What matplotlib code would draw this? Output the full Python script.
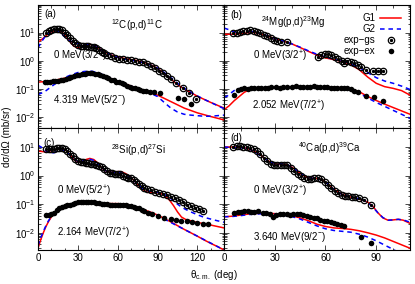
import numpy as np
import matplotlib
matplotlib.use("Agg")
import matplotlib.pyplot as plt
from matplotlib.ticker import MultipleLocator, LogLocator, NullFormatter

plt.rcParams['font.family'] = ['Liberation Sans', 'DejaVu Sans']
plt.rcParams['mathtext.fontset'] = 'custom'
plt.rcParams['mathtext.rm'] = 'Liberation Sans'
plt.rcParams['mathtext.it'] = 'Liberation Sans:italic'
plt.rcParams['mathtext.default'] = 'regular'
plt.rcParams['font.size'] = 7

# all cross sections are given as log10(dsigma/dOmega [mb/sr])

# ---- (a) 12C(p,d)11C
a_gs_th = [6, 8, 10, 12, 14, 16, 18, 20, 22, 24, 26, 28, 30, 32, 34, 36, 38, 40, 42, 44, 46, 48, 50,
           52, 55, 58, 61, 64, 67, 70, 73, 76, 79, 82, 85, 88, 91, 94, 97, 100, 104, 109, 114, 119]
a_gs_lg = [1.0, 1.05, 1.1, 1.12, 1.14, 1.13, 1.08, 1.0, 0.9, 0.8, 0.7, 0.62, 0.56, 0.53, 0.52, 0.52,
           0.51, 0.5, 0.48, 0.44, 0.38, 0.32, 0.27, 0.22, 0.16, 0.1, 0.07, 0.05, 0.03, 0.01, 0.0, -0.03,
           -0.06, -0.12, -0.19, -0.27, -0.35, -0.45, -0.55, -0.66, -0.79, -0.96, -1.14, -1.36]
a_ex_th = [5, 7, 9, 11, 13, 15, 17, 19, 21, 23, 25, 27, 29, 31, 33, 35, 37, 39, 41, 43, 45, 47, 49,
           51, 53, 55, 57, 59, 61, 63, 65, 67, 69, 71, 73, 75, 77, 79, 81, 84, 87, 92, 105, 110, 115]
a_ex_lg = [-0.75, -0.74, -0.74, -0.73, -0.72, -0.71, -0.7, -0.68, -0.65, -0.6, -0.56, -0.53, -0.51,
           -0.49, -0.47, -0.46, -0.45, -0.45, -0.45, -0.46, -0.48, -0.51, -0.55, -0.59, -0.63, -0.67,
           -0.7, -0.74, -0.77, -0.8, -0.84, -0.88, -0.92, -0.96, -0.98, -1.0, -1.03, -1.06, -1.08,
           -1.1, -1.12, -1.13, -1.32, -1.36, -1.55]
a_g1gs_th = [0, 4, 8, 12, 15, 18, 21, 24, 27, 30, 33, 36, 39, 42, 45, 48, 52, 56, 60, 65, 70, 75, 80,
             85, 90, 95, 100, 105, 110, 115, 120, 125, 130, 135, 140]
a_g1gs_lg = [0.65, 0.8, 0.97, 1.06, 1.07, 1.02, 0.88, 0.68, 0.52, 0.46, 0.5, 0.56, 0.58, 0.55, 0.47,
             0.38, 0.27, 0.19, 0.14, 0.08, 0.04, 0.0, -0.06, -0.15, -0.27, -0.45, -0.65, -0.85, -1.0,
             -1.13, -1.26, -1.37, -1.48, -1.58, -1.68]
a_g2gs_th = [0, 3, 6, 9, 12, 15, 18, 21, 24, 27, 30, 33, 36, 39, 42, 45, 48, 52, 56, 60, 65, 70, 75,
             80, 85, 90, 95, 100, 105, 110, 115, 120, 125, 130, 135, 140]
a_g2gs_lg = [0.46, 0.7, 0.9, 1.02, 1.08, 1.05, 0.95, 0.8, 0.7, 0.66, 0.62, 0.58, 0.58, 0.57, 0.53,
             0.46, 0.38, 0.27, 0.18, 0.12, 0.06, 0.02, -0.02, -0.08, -0.16, -0.26, -0.42, -0.6, -0.8,
             -0.97, -1.12, -1.25, -1.37, -1.48, -1.59, -1.7]
a_g1ex_th = [0, 10, 20, 30, 40, 45, 50, 60, 70, 80, 90, 100, 110, 120, 130, 140]
a_g1ex_lg = [-0.76, -0.72, -0.62, -0.52, -0.47, -0.48, -0.55, -0.72, -0.9, -1.06, -1.22, -1.45, -1.68,
             -1.85, -1.98, -2.1]
a_g2ex_th = [0, 5, 10, 15, 20, 25, 30, 35, 40, 45, 50, 55, 60, 70, 80, 90, 95, 100, 105, 110, 115,
             120, 125, 130, 135, 140]
a_g2ex_lg = [-1.2, -1.1, -0.92, -0.75, -0.6, -0.5, -0.42, -0.38, -0.37, -0.42, -0.52, -0.62, -0.72,
             -0.9, -1.06, -1.27, -1.48, -1.68, -1.82, -1.9, -1.93, -1.95, -1.97, -1.97, -1.95, -1.93]

# ---- (b) 24Mg(p,d)23Mg
b_gs_th = [5.5, 7.5, 9.5, 11.5, 13.5, 15.5, 17.5, 19.5, 21.5, 23.5, 25.5, 27.5, 29.5, 31.5, 33.5, 37,
           55.5, 57.5, 59.5, 61.5, 63.5, 65.5, 67.5, 69.5, 71, 73, 75, 77, 79, 81, 84, 88, 91, 94]
b_gs_lg = [0.98, 1.0, 1.03, 1.06, 1.07, 1.08, 1.07, 1.03, 0.98, 0.92, 0.86, 0.8, 0.74, 0.7, 0.67, 0.66,
           0.14, 0.22, 0.25, 0.24, 0.2, 0.13, 0.06, 0.0, -0.07, -0.02, -0.05, -0.08, -0.15, -0.22,
           -0.34, -0.37, -0.38, -0.37]
b_ex_th = [6, 8, 10, 12, 14, 16, 18, 20, 22, 24, 26, 28, 30.5, 33, 35, 37, 40, 42.5, 45, 47, 49, 51,
           53, 55, 57, 59, 61, 63, 65, 67, 69, 71, 73, 75, 77, 79, 84, 89, 94]
b_ex_lg = [-1.22, -1.03, -1.0, -0.98, -1.0, -0.97, -0.97, -0.96, -0.97, -0.96, -0.97, -0.95, -0.93,
           -0.96, -0.95, -0.95, -0.92, -0.89, -0.92, -0.93, -0.92, -0.94, -0.91, -0.95, -0.93, -0.95,
           -0.94, -0.97, -0.96, -0.97, -0.97, -0.97, -0.98, -1.02, -1.06, -1.1, -1.26, -1.3, -1.43]
b_g1gs_th = [0, 5, 10, 15, 18, 21, 25, 30, 35, 40, 45, 50, 55, 60, 65, 70, 75, 80, 85, 90, 95, 100,
             105, 110]
b_g1gs_lg = [0.94, 0.94, 0.96, 1.0, 1.0, 0.96, 0.89, 0.79, 0.7, 0.6, 0.47, 0.33, 0.2, 0.1, 0.04, -0.03,
             -0.14, -0.32, -0.58, -0.8, -0.92, -0.98, -1.06, -1.22]
b_g2gs_th = [0, 3, 6, 10, 15, 18, 21, 25, 30, 35, 40, 45, 50, 55, 60, 65, 70, 75, 80, 85, 90, 95, 100,
             105, 110]
b_g2gs_lg = [1.16, 1.1, 1.02, 1.02, 1.04, 1.03, 0.98, 0.9, 0.8, 0.7, 0.6, 0.48, 0.35, 0.23, 0.13, 0.06,
             -0.01, -0.1, -0.24, -0.42, -0.6, -0.72, -0.8, -0.9, -1.02]
b_g1ex_th = [0, 3, 6, 9, 12, 15, 18, 22, 30, 40, 50, 60, 70, 75, 80, 85, 90, 95, 100, 105, 110]
b_g1ex_lg = [-1.74, -1.6, -1.42, -1.27, -1.12, -1.03, -0.98, -0.96, -0.95, -0.94, -0.93, -0.93, -0.96,
             -1.0, -1.1, -1.27, -1.41, -1.54, -1.66, -1.78, -1.9]
b_g2ex_th = [0, 2, 4, 6, 8, 12, 20, 30, 40, 50, 60, 70, 75, 80, 85, 90, 95, 100, 105, 110]
b_g2ex_lg = [-1.3, -1.25, -1.15, -1.06, -1.0, -0.97, -0.96, -0.95, -0.94, -0.93, -0.94, -0.98, -1.04,
             -1.15, -1.32, -1.48, -1.62, -1.76, -1.9, -2.04]

# ---- (c) 28Si(p,d)27Si
c_gs_th = [6, 8, 10, 12, 14, 16, 18, 20, 22, 24, 26, 28, 30, 32, 34, 36, 38, 40, 42, 44, 46, 48, 50,
           52, 54, 56, 58, 60, 62, 64, 66, 68, 70, 72, 74, 76, 78, 80, 82, 85, 88, 91, 94, 97, 100,
           103, 106, 109, 112, 115, 118, 121, 124]
c_gs_lg = [0.94, 0.92, 0.92, 0.94, 0.97, 0.98, 0.96, 0.92, 0.85, 0.76, 0.67, 0.58, 0.52, 0.48, 0.46,
           0.45, 0.44, 0.42, 0.4, 0.38, 0.35, 0.3, 0.22, 0.15, 0.1, 0.08, 0.07, 0.06, 0.04, 0.0, -0.05,
           -0.08, -0.1, -0.14, -0.22, -0.3, -0.38, -0.44, -0.48, -0.52, -0.56, -0.6, -0.64, -0.68,
           -0.74, -0.8, -0.86, -0.93, -1.02, -1.08, -1.13, -1.18, -1.24]
c_ex_th = [6, 8, 10, 12, 14, 16, 18, 20, 22, 24, 26, 28, 30, 32, 34, 36, 38, 40, 42, 44, 46, 48, 50,
           52, 54, 56, 58, 60, 62, 64, 66, 68, 70, 72, 74, 76, 78, 80, 83, 86, 90, 95, 100, 104, 108,
           112, 116, 120, 124, 128]
c_ex_lg = [-1.38, -1.37, -1.35, -1.3, -1.2, -1.14, -1.1, -1.07, -1.04, -1.02, -0.99, -0.96, -0.94,
           -0.92, -0.91, -0.91, -0.92, -0.93, -0.94, -0.96, -0.97, -0.98, -0.99, -1.0, -1.02, -1.03,
           -1.02, -1.02, -1.02, -1.03, -1.04, -1.05, -1.07, -1.09, -1.12, -1.15, -1.2, -1.25, -1.3,
           -1.35, -1.41, -1.48, -1.53, -1.56, -1.58, -1.6, -1.62, -1.66, -1.68, -1.7]
c_g1gs_th = [0, 3, 6, 9, 12, 15, 18, 21, 24, 27, 30, 33, 36, 39, 42, 45, 48, 51, 54, 57, 60, 63, 66,
             69, 72, 75, 78, 81, 84, 87, 90, 93, 96, 99, 102, 105, 108, 111, 115, 120, 125, 130, 135,
             140]
c_g1gs_lg = [0.86, 0.84, 0.83, 0.86, 0.9, 0.93, 0.94, 0.88, 0.74, 0.56, 0.46, 0.48, 0.56, 0.6, 0.56,
             0.44, 0.26, 0.16, 0.12, 0.12, 0.14, 0.13, 0.07, -0.03, -0.16, -0.32, -0.46, -0.55, -0.6,
             -0.6, -0.6, -0.64, -0.72, -0.86, -1.05, -1.27, -1.45, -1.53, -1.58, -1.64, -1.68, -1.73,
             -1.78, -1.83]
c_g2gs_th = c_g1gs_th
c_g2gs_lg = [1.06, 0.98, 0.86, 0.78, 0.8, 0.87, 0.9, 0.85, 0.72, 0.58, 0.5, 0.5, 0.55, 0.57, 0.53,
             0.42, 0.27, 0.17, 0.12, 0.1, 0.1, 0.09, 0.04, -0.05, -0.17, -0.3, -0.42, -0.5, -0.54,
             -0.56, -0.58, -0.62, -0.68, -0.76, -0.88, -1.0, -1.1, -1.18, -1.27, -1.37, -1.46, -1.52,
             -1.58, -1.63]
c_g1ex_th = [0, 2, 4, 6, 8, 10, 13, 16, 20, 25, 30, 35, 40, 45, 50, 55, 60, 65, 70, 75, 80, 85, 90,
             95, 100, 105, 110, 115, 120, 125, 130, 135, 140]
c_g1ex_lg = [-2.54, -2.25, -2.0, -1.78, -1.6, -1.45, -1.3, -1.18, -1.07, -0.99, -0.94, -0.92, -0.93,
             -0.96, -0.98, -0.98, -0.98, -1.0, -1.05, -1.12, -1.2, -1.28, -1.38, -1.5, -1.62, -1.75,
             -1.88, -2.0, -2.12, -2.25, -2.37, -2.48, -2.6]
c_g2ex_th = c_g1ex_th
c_g2ex_lg = [-2.45, -2.18, -1.95, -1.75, -1.57, -1.44, -1.3, -1.19, -1.08, -1.0, -0.96, -0.94, -0.95,
             -0.98, -1.01, -1.01, -1.0, -1.02, -1.07, -1.14, -1.22, -1.3, -1.4, -1.52, -1.64, -1.76,
             -1.88, -2.0, -2.12, -2.24, -2.36, -2.48, -2.6]

# ---- (d) 40Ca(p,d)39Ca
d_gs_th = [5.5, 7.5, 9.5, 11.5, 13.5, 15.5, 17.5, 19.5, 21.5, 23.5, 25.5, 27.5, 29.5, 31.5, 33.5,
           35.5, 37.5, 39.5, 41.5, 43.5, 45.5, 47.5, 49.5, 51.5, 53.5, 55.5, 57.5, 59.5, 61.5, 63.5,
           65.5, 67.5, 69.5, 71.5, 73.5, 75.5, 77.5, 80, 83, 87]
d_gs_lg = [1.0, 1.02, 1.02, 1.01, 1.0, 0.97, 0.93, 0.85, 0.75, 0.63, 0.5, 0.42, 0.37, 0.36, 0.37, 0.38,
           0.36, 0.28, 0.17, 0.07, -0.02, -0.08, -0.12, -0.11, -0.1, -0.1, -0.13, -0.22, -0.33, -0.45,
           -0.55, -0.62, -0.67, -0.7, -0.72, -0.74, -0.76, -0.8, -0.86, -1.03]
d_ex_th = [6, 8, 10, 12, 14, 16, 18, 20, 23, 25, 27, 29, 31, 33, 35, 37, 39, 41, 43, 45, 47, 49, 51,
           53, 55, 57, 59, 61, 63, 65, 67, 69, 71, 81, 87]
d_ex_lg = [-1.3, -1.28, -1.26, -1.25, -1.25, -1.27, -1.26, -1.25, -1.3, -1.32, -1.33, -1.45, -1.38,
           -1.34, -1.33, -1.34, -1.37, -1.36, -1.34, -1.35, -1.37, -1.4, -1.44, -1.47, -1.5, -1.55,
           -1.6, -1.6, -1.63, -1.66, -1.7, -1.74, -1.78, -2.14, -2.34]
d_g1gs_th = [0, 5, 10, 13, 16, 19, 22, 25, 28, 31, 34, 37, 40, 43, 46, 49, 52, 55, 58, 61, 64, 67,
             70, 73, 76, 79, 82, 85, 88, 91, 94, 97, 100, 103, 106, 110]
d_g1gs_lg = [1.0, 1.0, 0.99, 0.96, 0.9, 0.82, 0.7, 0.56, 0.45, 0.4, 0.39, 0.38, 0.3, 0.17, 0.03, -0.06,
             -0.09, -0.1, -0.14, -0.27, -0.43, -0.56, -0.66, -0.72, -0.77, -0.81, -0.86, -0.93, -1.07,
             -1.3, -1.48, -1.56, -1.55, -1.53, -1.56, -1.67]
d_g2gs_th = d_g1gs_th
d_g2gs_lg = [1.0, 0.98, 0.97, 0.95, 0.9, 0.8, 0.67, 0.55, 0.46, 0.42, 0.41, 0.39, 0.31, 0.18, 0.05,
             -0.05, -0.09, -0.11, -0.16, -0.28, -0.44, -0.57, -0.66, -0.72, -0.76, -0.8, -0.85, -0.94,
             -1.1, -1.3, -1.47, -1.56, -1.55, -1.53, -1.55, -1.63]
d_g1ex_th = [0, 5, 10, 15, 20, 25, 30, 35, 40, 45, 50, 55, 60, 65, 70, 75, 80, 85, 90, 95, 100, 105,
             110]
d_g1ex_lg = [-1.44, -1.42, -1.38, -1.34, -1.32, -1.32, -1.33, -1.35, -1.4, -1.48, -1.58, -1.7, -1.78,
             -1.83, -1.85, -1.88, -1.93, -2.0, -2.08, -2.18, -2.3, -2.42, -2.54]
d_g2ex_th = [0, 5, 10, 15, 20, 25, 30, 35, 40, 45, 50, 55, 60, 65, 70, 75, 80, 85, 90, 95, 100, 105]
d_g2ex_lg = [-1.44, -1.43, -1.4, -1.36, -1.34, -1.33, -1.35, -1.38, -1.43, -1.52, -1.64, -1.76, -1.86,
             -1.92, -1.95, -1.98, -2.05, -2.15, -2.28, -2.43, -2.58, -2.75]

labels = ['(a)', '(b)', '(c)', '(d)']
reactions = [r'$^{12}$C(p,d)$^{11}$C', r'$^{24}$Mg(p,d)$^{23}$Mg',
             r'$^{28}$Si(p,d)$^{27}$Si', r'$^{40}$Ca(p,d)$^{39}$Ca']
gs_names = [r'0 MeV(3/2$^{-}$)', r'0 MeV(3/2$^{+}$)', r'0 MeV(5/2$^{+}$)', r'0 MeV(3/2$^{+}$)']
ex_names = [r'4.319 MeV(5/2$^{-}$)', r'2.052 MeV(7/2$^{+}$)',
            r'2.164 MeV(7/2$^{+}$)', r'3.640 MeV(9/2$^{-}$)']

W, H = 415, 284
fig = plt.figure(figsize=(W / 100, H / 100), dpi=100)


def box(x0, y0, x1, y1):
    return [x0 / W, 1 - y1 / H, (x1 - x0) / W, (y1 - y0) / H]


axa = fig.add_axes(box(38, 5, 224, 128.3))
axb = fig.add_axes(box(224, 5, 410, 128.3), sharey=axa)
axc = fig.add_axes(box(38, 128.3, 224, 250))
axd = fig.add_axes(box(224, 128.3, 410, 250), sharey=axc)
axes = [axa, axb, axc, axd]

data = [
    (a_gs_th, a_gs_lg, a_ex_th, a_ex_lg, a_g1gs_th, a_g1gs_lg, a_g2gs_th, a_g2gs_lg,
     a_g1ex_th, a_g1ex_lg, a_g2ex_th, a_g2ex_lg),
    (b_gs_th, b_gs_lg, b_ex_th, b_ex_lg, b_g1gs_th, b_g1gs_lg, b_g2gs_th, b_g2gs_lg,
     b_g1ex_th, b_g1ex_lg, b_g2ex_th, b_g2ex_lg),
    (c_gs_th, c_gs_lg, c_ex_th, c_ex_lg, c_g1gs_th, c_g1gs_lg, c_g2gs_th, c_g2gs_lg,
     c_g1ex_th, c_g1ex_lg, c_g2ex_th, c_g2ex_lg),
    (d_gs_th, d_gs_lg, d_ex_th, d_ex_lg, d_g1gs_th, d_g1gs_lg, d_g2gs_th, d_g2gs_lg,
     d_g1ex_th, d_g1ex_lg, d_g2ex_th, d_g2ex_lg),
]

red = '#ff0000'
blue = '#0000ff'
for ax, d in zip(axes, data):
    gs_th, gs_lg, ex_th, ex_lg, g1gs_th, g1gs_lg, g2gs_th, g2gs_lg, g1ex_th, g1ex_lg, g2ex_th, g2ex_lg = d
    p = lambda v: 10 ** np.array(v)
    ax.plot(g1gs_th, p(g1gs_lg), color=red, lw=1.1)
    ax.plot(g1ex_th, p(g1ex_lg), color=red, lw=1.1)
    ax.plot(g2gs_th, p(g2gs_lg), color=blue, lw=1.1, dashes=(3, 2.5))
    ax.plot(g2ex_th, p(g2ex_lg), color=blue, lw=1.1, dashes=(3, 2.5))
    ax.plot(gs_th, p(gs_lg), 'o', ms=4.6, mfc='none', mec='black', mew=0.9)
    ax.plot(gs_th, p(gs_lg), 'o', ms=1.4, color='black')
    ax.plot(ex_th, p(ex_lg), 'o', ms=4.0, color='black', mew=0)
    ax.set_yscale('log')
    ax.xaxis.set_major_locator(MultipleLocator(30))
    ax.xaxis.set_minor_locator(MultipleLocator(10))
    ax.yaxis.set_major_locator(LogLocator(base=10))
    ax.yaxis.set_minor_locator(LogLocator(base=10, subs=np.arange(2, 10)))
    ax.yaxis.set_minor_formatter(NullFormatter())
    ax.tick_params(which='both', direction='in', top=True, right=True, width=0.5, pad=2)
    ax.tick_params(which='major', length=3.5)
    ax.tick_params(which='minor', length=1.8)
    for s in ax.spines.values():
        s.set_linewidth(0.8)

axa.set_xlim(0, 140)
axc.set_xlim(0, 140)
axb.set_xlim(0, 110)
axd.set_xlim(0, 110)
axa.set_ylim(0.004, 95)
axc.set_ylim(0.0025, 45)
axa.tick_params(labelbottom=False)
axb.tick_params(labelbottom=False, labelleft=False)
axd.tick_params(labelleft=False)

lab_pos = [(0.032, 0.925), (0.032, 0.92), (0.03, 0.88), (0.032, 0.918)]
rx_pos = [(0.53, 0.84), (0.372, 0.865), (0.54, 0.82), (0.565, 0.835)]
gs_pos = [(0.08, 0.595), (0.157, 0.58), (0.1, 0.48), (0.157, 0.48)]
ex_pos = [(0.08, 0.23), (0.149, 0.175), (0.1, 0.137), (0.157, 0.11)]
for i, ax in enumerate(axes):
    ax.text(*lab_pos[i], labels[i], transform=ax.transAxes, ha='left', va='center')
    ax.text(*rx_pos[i], reactions[i], transform=ax.transAxes, ha='center', va='center')
    ax.text(*gs_pos[i], gs_names[i], transform=ax.transAxes, ha='left', va='center')
    ax.text(*ex_pos[i], ex_names[i], transform=ax.transAxes, ha='left', va='center')

# legend in panel (b)
h1, = axb.plot([], [], color=red, lw=1.1)
h2, = axb.plot([], [], color=blue, lw=1.1, dashes=(3, 2.5))
h3a, = axb.plot([], [], 'o', ms=4.6, mfc='none', mec='black', mew=0.9)
h3b, = axb.plot([], [], 'o', ms=1.4, color='black')
h4, = axb.plot([], [], 'o', ms=4.0, color='black', mew=0)
axb.legend([h1, h2, (h3a, h3b), h4], ['G1', 'G2', 'exp\u2212gs', 'exp\u2212ex'],
           loc='upper right', bbox_to_anchor=(0.99, 0.99), frameon=False, markerfirst=False,
           handlelength=2.2, handletextpad=0.5, labelspacing=0.1, borderpad=0.2, fontsize=7)

fig.text(0.016, 0.518, 'd\u03c3/d\u03a9 (mb/sr)', rotation=90, ha='center', va='center')
fig.text(0.516, 0.032, r'$\theta_{\rm c.m.}$ (deg)', ha='center', va='center')

fig.savefig('out.png', dpi=100)
